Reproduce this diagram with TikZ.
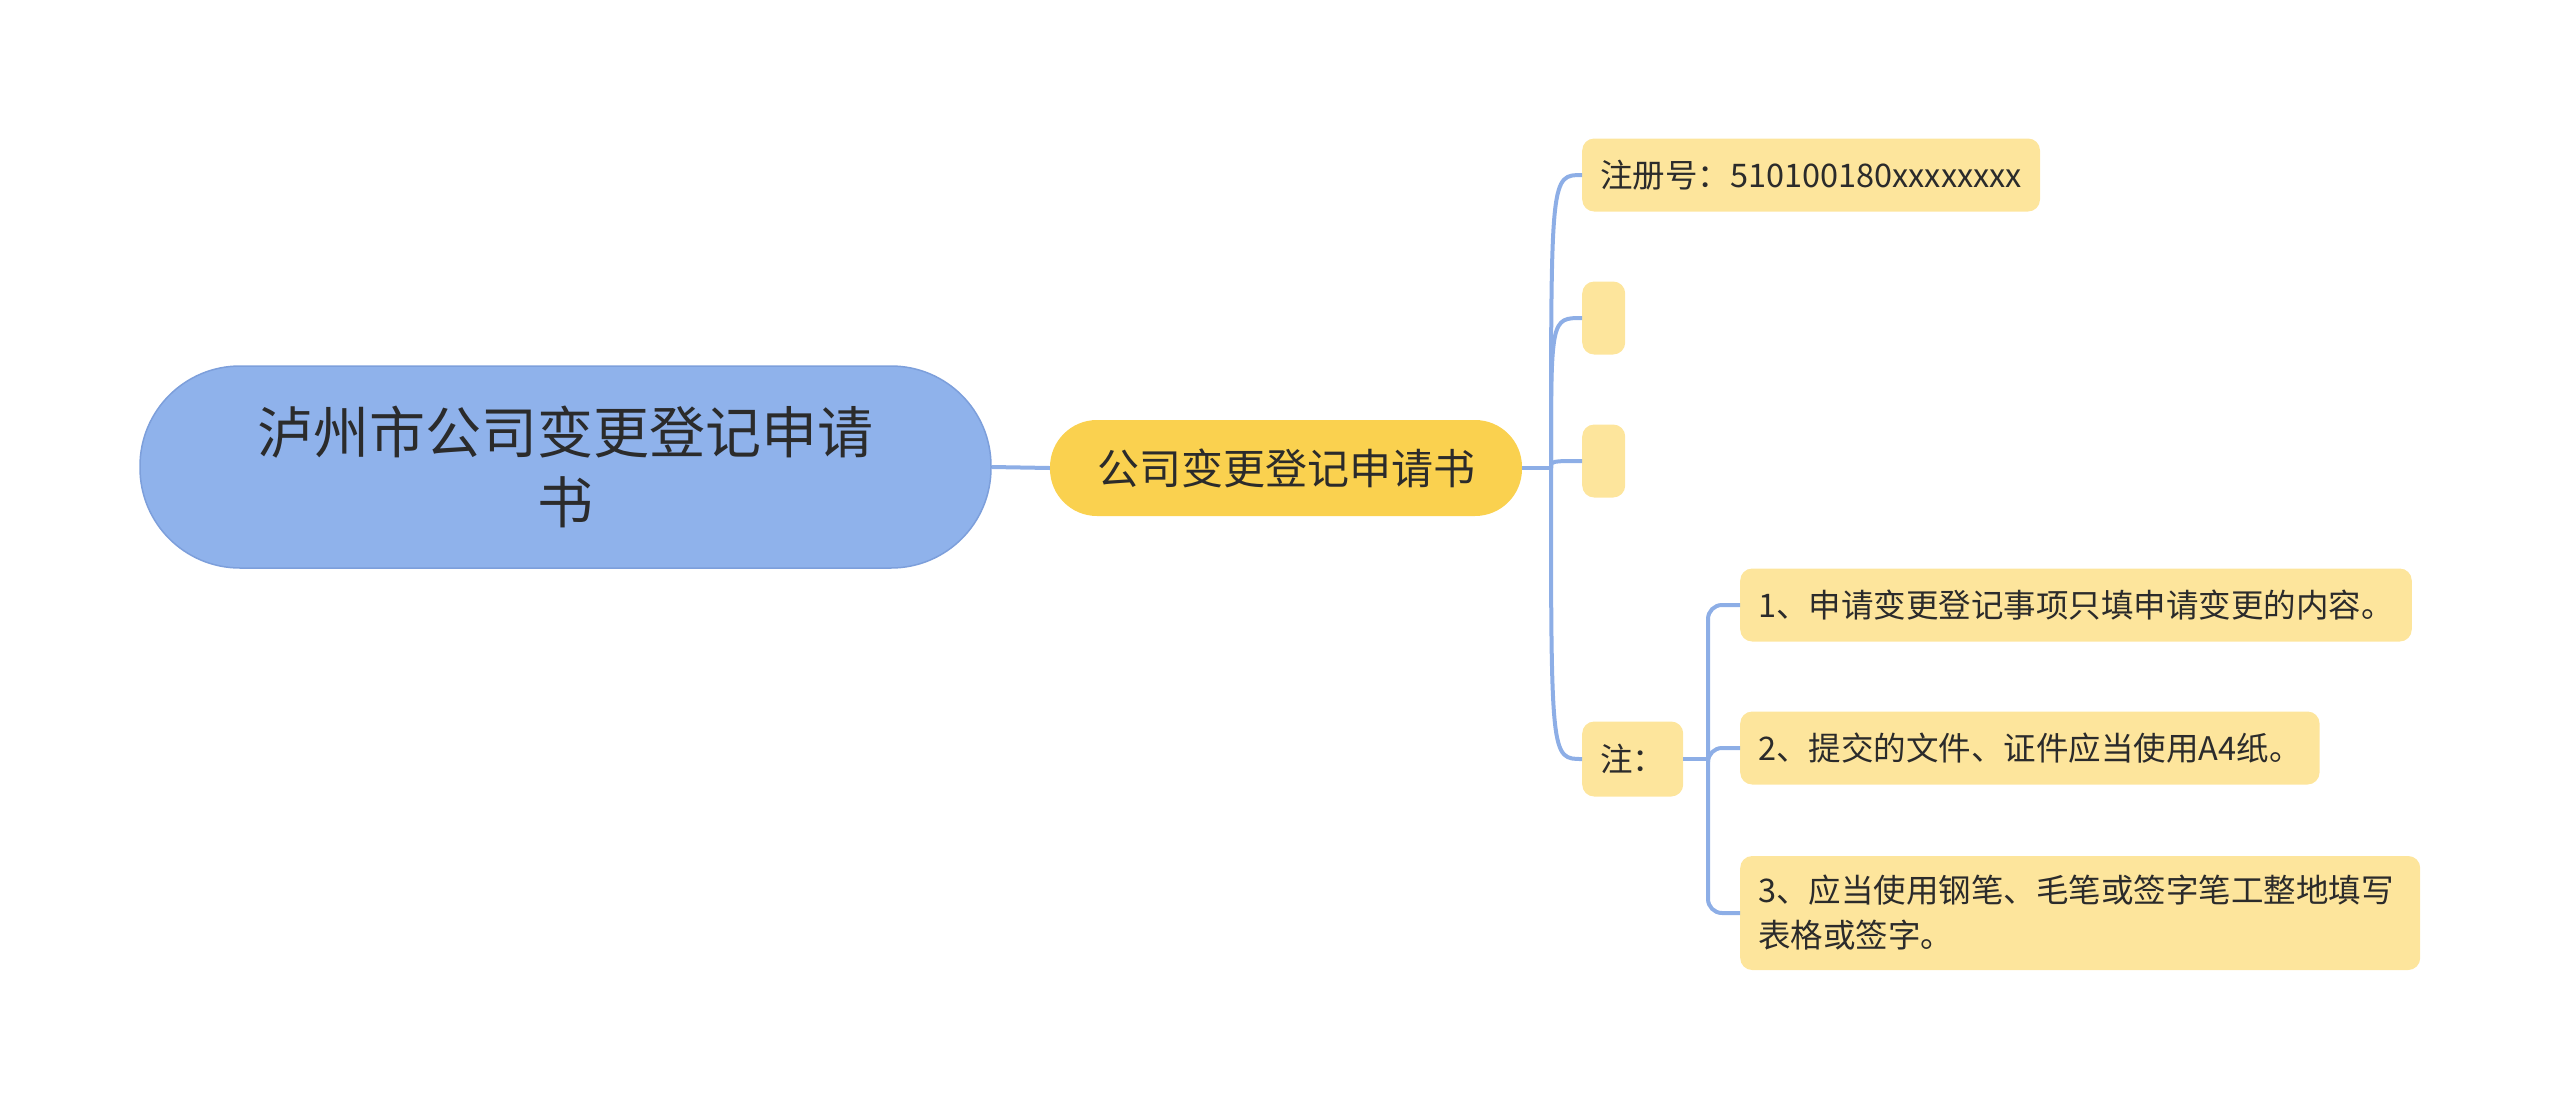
\documentclass[tikz,border=0pt]{standalone}
\usepackage{fontspec}
\setmainfont{Noto Sans CJK SC}
\definecolor{lineblue}{HTML}{8DAEE6}
\definecolor{rootblue}{HTML}{8FB2EB}
\definecolor{rootborder}{HTML}{7D9FDB}
\definecolor{mainyellow}{HTML}{FAD14F}
\definecolor{leafyellow}{HTML}{FDE59C}
\definecolor{textdark}{HTML}{2B2B2B}
\tikzset{
  conn/.style={draw=lineblue, line width=4pt},
  rootbox/.style={fill=rootblue, draw=rootborder, line width=1.5pt, rounded corners=100pt,
    minimum width=851pt, minimum height=202pt, align=center, text=textdark,
    font=\fontsize{56}{70}\selectfont},
  mainbox/.style={fill=mainyellow, rounded corners=47pt, minimum width=472pt, minimum height=96pt,
    text=textdark, font=\fontsize{42}{50}\selectfont},
  leaf/.style={fill=leafyellow, rounded corners=12pt, minimum height=73pt, inner xsep=18pt,
    text=textdark, anchor=west, align=left, font=\fontsize{32.5}{45}\selectfont},
}
\begin{document}
\begin{tikzpicture}[x=1pt,y=-1pt]
\useasboundingbox (0,0) rectangle (2560,1111);
\node[rootbox] (root) at (565.5,467) {泸州市公司变更登记申请\\书};
\node[mainbox] (main) at (1286,468) {公司变更登记申请书};
\node[leaf] (c1) at (1582,175) {注册号：510100180xxxxxxxx};
\node[leaf, minimum width=43pt, inner xsep=0pt] (c2) at (1582,318) {};
\node[leaf, minimum width=43pt, inner xsep=0pt] (c3) at (1582,461) {};
\node[leaf, minimum height=75pt] (c4) at (1582,759) {注：};
\node[leaf] (g1) at (1740,605) {1、申请变更登记事项只填申请变更的内容。};
\node[leaf] (g2) at (1740,748) {2、提交的文件、证件应当使用A4纸。};
\node[leaf, minimum height=114pt, text width=644pt] (g3) at (1740,913) {3、应当使用钢笔、毛笔或签字笔工整地填写\\表格或签字。};
\coordinate (j1) at (1551,468);
\coordinate (j2) at (1708,759);
\draw[conn] (root.east) -- (main.west);
\draw[conn] (main.east) -- (j1);
\foreach \c in {c1,c2,c3,c4}{
  \draw[conn] (j1) .. controls (j1 |- \c.west) .. (\c.west);
}
\draw[conn] (c4.east) -- (j2);
\foreach \g in {g1,g2,g3}{
  \draw[conn, rounded corners=14pt] (j2) |- (\g.west);
}
\end{tikzpicture}
\end{document}
